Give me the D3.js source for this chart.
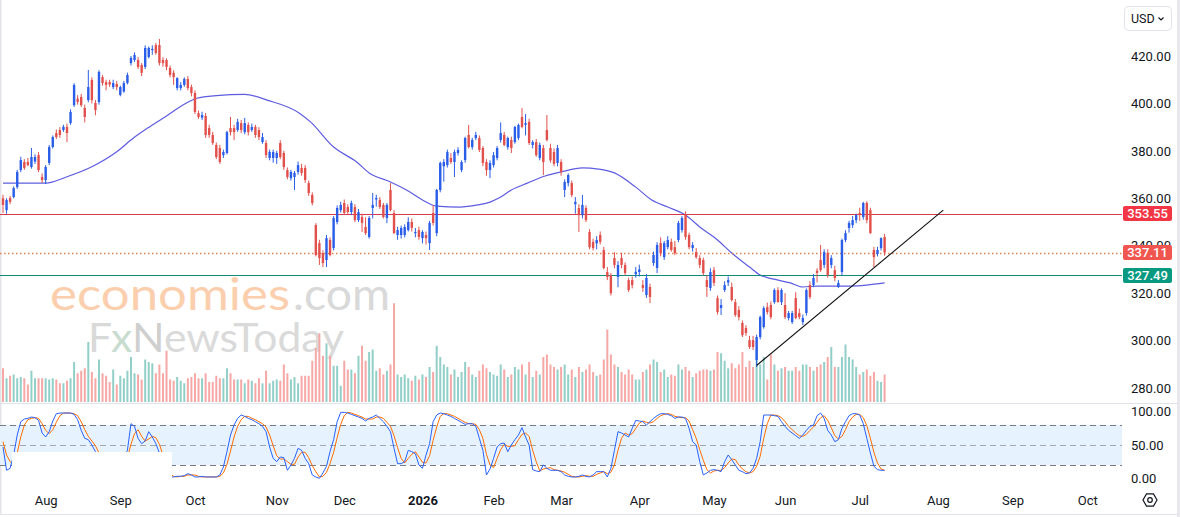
<!DOCTYPE html>
<html>
<head>
<meta charset="utf-8">
<script src="https://cdn.jsdelivr.net/npm/d3@7"></script>
<style>
  body { margin: 0; background: #fff; }
  svg { display: block; font-family: Roboto, "Noto Sans", sans-serif; }
</style>
</head>
<body>
<svg id="vis"></svg>
<script>
const WIDTH = 1180;
const HEIGHT = 517;

// daily candles [open, high, low, close]
const ohlc = [
  [360.0,361.5,353.8,357.2],[355.0,360.0,353.5,359.3],[360.1,361.0,357.5,358.5],[360.5,365.0,360.0,364.3],[364.7,372.0,364.0,371.1],
  [371.9,377.5,371.0,376.1],[375.3,376.5,372.0,372.8],[375.3,377.0,373.5,374.0],[373.2,381.2,372.5,377.4],[375.5,378.5,374.5,377.4],
  [378.2,379.5,371.0,371.9],[369.0,370.5,366.5,367.7],[367.7,374.0,366.0,373.2],[374.9,382.5,374.0,381.6],[381.6,386.5,381.0,385.8],
  [387.5,389.0,385.0,385.8],[388.8,390.0,385.5,386.7],[388.8,391.0,388.0,390.1],[390.1,391.5,383.7,387.5],[391.7,397.5,391.0,396.4],
  [399.3,408.5,398.5,407.8],[402.0,403.5,399.5,400.6],[402.7,404.0,398.5,399.3],[398.1,399.5,392.0,394.3],[401.4,414.1,400.5,406.9],
  [409.9,411.0,400.0,401.4],[400.2,401.5,395.0,397.2],[400.6,414.0,399.5,413.3],[411.1,412.0,407.5,408.6],[409.0,410.0,405.5,407.8],
  [409.0,410.0,407.0,408.0],[406.9,410.0,406.0,408.6],[408.2,409.5,405.5,406.9],[403.6,407.5,403.0,406.9],[405.0,409.5,404.5,408.6],
  [408.6,413.0,408.0,412.0],[417.0,420.0,416.0,419.2],[418.3,421.5,417.5,420.4],[418.3,419.5,414.5,415.4],[416.2,417.0,411.5,412.9],
  [415.4,424.5,414.5,423.4],[419.6,424.0,419.0,423.4],[422.5,424.5,420.5,423.0],[424.6,425.5,420.5,421.3],[424.6,427.2,416.0,417.0],
  [418.3,419.5,415.5,417.0],[418.3,419.0,414.0,415.4],[415.0,416.0,411.0,412.0],[412.9,414.0,407.8,411.1],[406.5,411.0,405.5,410.7],
  [406.5,409.0,405.5,407.8],[407.8,411.0,407.0,410.3],[410.3,411.5,405.5,406.5],[406.9,408.0,403.0,404.4],[404.4,405.5,395.5,396.4],
  [395.9,397.0,393.5,394.3],[394.0,396.5,393.0,395.1],[394.7,396.0,385.5,386.7],[389.6,391.0,385.5,386.7],[386.7,388.0,382.5,383.3],
  [382.5,383.5,376.5,377.4],[381.2,382.5,374.5,375.3],[378.2,380.5,377.0,379.5],[379.1,388.5,378.5,387.9],[389.6,394.3,386.5,387.9],
  [389.6,391.0,384.5,387.9],[388.8,393.5,388.0,392.2],[391.7,393.0,387.5,388.8],[387.9,393.9,387.0,391.7],[390.9,392.0,386.5,387.9],
  [388.8,391.5,388.0,390.1],[390.1,391.0,385.5,386.7],[388.8,390.0,384.5,385.8],[383.7,387.5,383.0,385.8],[383.3,384.5,377.0,378.2],
  [377.0,380.5,376.0,379.5],[377.0,380.5,375.0,379.5],[377.0,380.0,374.5,379.1],[383.3,384.5,376.5,377.4],[379.1,380.0,372.0,373.2],
  [371.9,373.0,368.0,369.0],[368.5,372.0,367.5,371.1],[369.0,371.5,363.5,370.7],[371.1,375.5,370.0,374.0],[372.8,374.5,369.5,370.7],
  [372.8,374.0,366.5,367.7],[366.4,367.5,361.0,362.2],[361.4,362.5,357.0,358.0],[348.7,349.5,335.5,336.1],[341.1,342.5,331.9,334.8],
  [336.9,338.0,331.0,332.7],[334.0,344.5,331.0,343.2],[342.4,343.5,335.5,336.1],[339.0,352.5,338.0,351.7],[350.0,357.0,349.0,355.9],
  [355.0,358.5,354.0,357.2],[358.0,359.5,353.0,353.8],[356.3,357.5,353.5,354.2],[354.2,359.0,353.0,358.0],[356.3,357.5,350.0,350.8],
  [350.8,355.5,350.0,354.2],[352.1,353.5,345.8,349.6],[347.9,352.0,344.5,345.3],[343.7,352.5,343.0,351.7],[355.9,362.2,351.5,357.2],
  [359.5,361.5,356.5,360.1],[359.3,360.5,355.5,356.3],[357.2,358.0,351.5,352.1],[351.7,358.0,349.5,357.2],[363.5,366.4,354.5,355.0],
  [353.8,355.0,345.0,345.3],[344.5,348.0,342.5,346.6],[344.5,348.5,343.0,347.5],[344.5,349.0,343.5,347.9],[346.6,352.0,346.0,350.0],
  [350.0,351.5,346.0,347.5],[345.3,347.5,343.5,345.8],[346.6,348.0,342.5,343.7],[343.2,346.5,341.0,345.8],[344.5,346.0,340.5,343.2],
  [341.1,350.5,338.2,349.6],[353.8,357.0,348.5,349.6],[345.3,364.0,344.0,363.5],[363.5,375.5,362.5,374.9],[373.5,376.5,367.0,375.3],
  [374.0,380.5,373.0,379.5],[377.0,379.0,374.5,375.3],[375.3,380.5,369.0,379.5],[379.1,381.5,378.0,380.4],[371.9,376.0,371.0,375.3],
  [376.1,386.0,375.0,385.4],[386.7,390.9,381.0,381.6],[381.6,385.5,380.5,384.6],[385.4,388.0,384.5,386.7],[385.4,386.5,379.5,380.4],
  [381.2,382.0,373.5,374.9],[375.3,376.5,369.5,371.9],[371.9,376.0,368.5,374.9],[374.0,379.5,373.0,378.2],[377.0,382.0,376.0,381.2],
  [384.6,392.0,383.5,387.5],[386.7,388.0,382.0,382.5],[381.6,386.0,380.5,385.4],[384.6,386.0,379.1,381.2],[383.7,390.5,383.0,390.1],
  [385.4,391.5,384.5,390.9],[394.3,398.1,389.5,390.1],[391.0,395.5,386.5,391.7],[392.2,393.5,382.5,383.3],[382.5,384.5,381.0,383.7],
  [383.7,385.0,377.5,378.2],[377.0,383.5,376.0,382.5],[381.2,382.5,369.8,375.3],[388.8,395.1,384.0,384.6],[381.2,383.0,375.0,376.0],
  [379.5,381.0,373.5,374.5],[374.9,382.5,373.5,381.2],[375.3,376.5,369.5,371.1],[363.5,368.0,360.5,366.9],[366.4,370.5,365.0,369.8],
  [366.4,367.5,360.5,361.4],[357.5,360.5,353.5,358.5],[355.9,357.5,345.8,352.9],[352.9,361.4,351.5,357.2],[355.9,357.0,350.0,350.8],
  [345.8,347.0,338.5,339.4],[341.6,343.0,338.0,339.0],[341.0,344.0,338.5,342.4],[344.5,346.0,340.5,341.6],[338.2,339.5,330.0,330.6],
  [328.9,331.0,325.5,326.8],[327.6,328.5,319.0,320.0],[334.8,337.3,330.5,331.9],[326.8,333.5,322.5,331.9],[334.8,337.0,330.5,331.9],
  [331.9,333.0,327.5,328.5],[325.5,326.5,320.5,321.3],[325.5,327.0,322.0,323.4],[328.0,331.0,326.5,329.0],[328.9,332.0,327.0,330.0],
  [323.4,325.5,320.5,322.2],[319.2,328.0,318.0,326.4],[322.6,324.0,315.8,318.4],[332.7,337.5,331.5,336.1],[330.6,341.5,328.5,340.3],
  [341.1,343.5,335.5,336.9],[335.2,342.0,334.0,341.1],[339.4,344.0,338.5,342.4],[341.6,343.0,337.5,338.2],[339.4,342.0,336.0,336.9],
  [342.4,350.5,341.5,349.6],[346.6,352.5,345.5,351.7],[352.9,354.5,342.5,343.7],[344.5,345.5,338.5,339.4],[339.0,341.5,337.5,340.3],
  [337.3,339.0,334.5,335.2],[334.8,336.0,330.5,331.9],[334.0,335.0,327.5,328.5],[325.5,327.5,318.4,322.6],[322.2,330.5,321.0,328.9],
  [329.7,331.0,323.0,324.3],[317.9,319.0,311.0,312.0],[313.7,317.5,310.8,315.0],[321.3,325.0,320.5,323.4],[324.5,327.0,323.0,325.5],
  [322.6,324.5,316.5,317.1],[316.2,317.5,310.0,310.8],[312.9,314.5,308.5,309.9],[307.4,308.5,301.5,302.3],[305.3,306.5,302.0,303.2],
  [300.2,302.0,296.5,297.3],[300.2,302.0,296.0,297.3],[291.8,302.5,288.8,301.5],[301.5,310.5,300.5,309.9],[305.7,314.5,305.0,313.7],
  [314.1,316.0,311.0,312.0],[315.0,316.5,309.0,309.9],[316.2,322.0,315.5,321.3],[321.3,322.5,316.0,316.2],[316.2,322.0,315.0,321.3],
  [315.0,320.0,309.0,309.9],[309.5,312.5,308.5,311.6],[307.8,312.5,307.0,311.6],[317.9,320.4,309.0,309.5],[311.6,313.5,309.0,309.9],
  [307.8,311.0,306.5,309.5],[311.6,322.0,310.5,321.3],[323.4,325.0,317.5,318.4],[323.4,328.0,322.5,326.4],[329.5,330.5,324.5,328.5],
  [334.0,340.3,329.0,329.7],[331.9,338.5,330.5,337.3],[336.9,338.5,326.5,327.6],[331.9,336.0,330.5,334.8],[329.7,331.5,325.0,326.4],
  [322.6,325.5,322.2,324.3],[328.9,343.0,327.5,342.4],[342.4,346.5,341.5,345.3],[347.5,350.5,345.5,349.6],[348.7,352.5,347.5,350.8],
  [350.8,353.5,349.5,352.9],[353.8,356.0,350.5,352.9],[352.1,358.5,351.0,358.0],[358.0,358.8,349.5,350.8],[355.0,356.0,345.0,345.3],
  [338.2,339.5,331.0,335.2],[336.5,339.5,335.5,338.2],[339.0,343.5,338.0,343.2],[343.7,345.0,335.8,337.11]
];

// volume in millions
const volume = [
  27,19,21,22,19,20,19,14,25,19, 19,19,19,18,19,18,15,15,17,19,
  32,23,25,27,48,24,19,34,23,21, 16,26,14,21,19,25,36,23,22,18,
  34,32,31,23,30,23,41,18,17,20, 17,15,19,20,23,19,19,23,16,16,
  21,19,19,27,23,18,18,18,15,18, 17,15,19,15,25,15,17,18,17,30,
  23,18,20,15,21,21,21,33,43,55, 37,47,37,29,29,13,33,26,26,23,
  37,45,33,40,42,25,27,22,25,30, 79,22,20,22,19,17,21,18,22,20,
  28,24,45,36,30,28,22,26,20,24, 32,28,22,20,25,30,27,24,22,21,
  30,26,20,22,28,26,30,22,32,20, 25,22,36,38,30,28,26,28,30,22,
  26,20,28,24,26,30,24,21,22,34, 58,38,30,28,24,22,26,22,18,18,
  24,26,30,34,32,24,26,20,22,21, 30,26,28,25,20,23,25,26,26,25,
  26,40,39,33,27,31,27,30,40,28, 33,28,42,30,36,18,38,30,25,27,
  28,25,25,28,25,30,30,28,25,28, 30,32,36,44,28,28,36,46,36,34,
  28,22,24,26,21,24,17,16,22
];

// stochastic %K and %D
const stochK = [
  47,12,15,35,65,85,89,90,92,91, 87,68,62,70,86,97,98,98,98,98,
  96,88,72,60,58,50,40,25,20,15, 12,18,10,20,30,42,82,78,60,52,
  56,70,62,52,38,15,5,2,2,3, 3,4,7,5,2,2,3,2,2,2,
  2,5,17,40,65,80,90,95,93,90, 88,85,82,78,70,47,30,25,32,31,
  12,20,30,45,42,30,22,5,2,0, 8,18,40,58,85,99,99,98,96,94,
  92,90,86,90,92,95,90,85,78,70, 45,22,22,25,42,40,37,20,15,35,
  52,85,95,98,97,95,93,90,87,84, 81,82,82,78,60,42,5,14,30,47,
  52,53,40,50,58,65,76,62,50,13, 11,10,20,15,12,12,12,10,5,3,
  2,2,3,5,3,2,5,10,10,10, 2,15,42,70,68,65,62,75,87,86,
  85,80,85,90,94,97,97,96,94,90, 92,92,90,75,55,50,25,5,8,12,
  13,12,10,25,35,28,20,12,10,7, 8,15,30,55,95,95,95,94,93,85,
  78,72,68,64,60,65,72,78,80,94, 98,90,72,65,55,58,75,85,94,97,
  97,95,82,60,38,18,13,12,12
];
const stochD = [
  55,35,25,21,38,62,80,88,90,91, 90,82,72,67,73,84,94,98,98,98,
  97,94,85,73,63,56,49,38,28,20, 16,15,13,16,20,31,51,67,73,63,
  56,59,63,61,51,35,19,7,3,2, 3,3,5,5,5,3,2,2,2,2,
  2,3,8,21,41,62,78,88,93,93, 90,88,85,82,77,65,49,34,29,29,
  25,21,21,32,39,39,31,19,10,2, 3,9,22,39,61,81,94,99,98,96,
  94,92,89,89,89,92,92,90,84,78, 64,46,30,23,30,36,40,32,24,23,
  34,57,77,93,97,97,95,93,90,87, 84,82,82,81,73,60,36,20,16,30,
  43,51,48,48,49,58,66,68,63,42, 25,11,14,15,16,13,12,11,9,6,
  3,2,2,3,4,3,3,6,8,10, 7,9,20,42,60,68,65,67,75,83,
  86,84,83,85,90,94,96,97,96,93, 92,91,91,86,73,60,43,27,13,8,
  11,12,12,16,23,29,28,20,14,10, 8,10,18,33,60,82,95,95,94,91,
  85,78,73,68,64,63,66,72,77,84, 91,94,87,76,64,59,63,73,85,92,
  96,96,91,79,60,39,23,14,12
];

// moving average, read at these bar positions
const maBar = [0,12,18,25,32,36.6,41.3,46,50.6,54.5,60,68,74.3,83.5,86.5,93,99.5,103,109,113.5,118,122,128.5,133.5,137,140,143,147.5,152.5,157,163,167.5,172,178,182.5,187,192,196,201,205,210,213,216.5,221.5,225,229,233.5,238.5,243,248];
const maVal = [366.4,366.4,369.1,373.3,379.6,385.3,390.2,394.7,399.3,402.2,403.3,403.8,401.4,395.8,392.2,381.6,375.3,370.7,366.9,363.5,359.3,356.7,356.3,357.2,358.4,360.5,363.5,366.4,369.4,371.1,372.8,372.3,370.7,364.7,359.3,356.3,352.9,347.9,342.4,336.9,331.0,327.6,326.0,324.3,322.6,323.0,323.0,323.0,323.4,324.3];

// horizontal levels and trend line
const levels = [
  { value: 353.55, line: "#d83a4b", box: "#f23645", dash: null },
  { value: 337.11, line: "#e3824f", box: "#f0564f", dash: "1.5 2.5" },
  { value: 327.49, line: "#128a79", box: "#089981", dash: null },
];
const trend = [{ bar: 212, price: 289.5 }, { bar: 264.5, price: 355 }];

const priceTicks = [280, 300, 320, 340, 360, 380, 400, 420];
const stochTicks = [0, 50, 100];
const monthBars = [12, 33, 54, 77, 96, 118, 138, 157, 179, 200, 220, 241, 263, 284, 305];
const monthLabels = ["Aug", "Sep", "Oct", "Nov", "Dec", "2026", "Feb", "Mar", "Apr", "May", "Jun", "Jul", "Aug", "Sep", "Oct"];

const UP = "#2a5ee8";
const DOWN = "#e2504c";
const PLOT_RIGHT = 1122;

const svg = d3.select("#vis").attr("width", WIDTH).attr("height", HEIGHT);

const x = d3.scaleLinear().domain([0, 248]).range([3, 884.6]);
const y = d3.scaleLinear().domain([280, 420]).range([388, 56]);
const yVol = d3.scaleLinear().domain([0, 100]).range([402, 277]);
const yStoch = d3.scaleLinear().domain([0, 100]).range([478.3, 411.7]);

// bordes
svg.append("rect").attr("x", 0).attr("y", 0).attr("width", 1.5).attr("height", 514).attr("fill", "#e4e4e8");
svg.append("rect").attr("x", 1177).attr("y", 0).attr("width", 3).attr("height", HEIGHT).attr("fill", "#e8e8ec");
svg.append("line").attr("x1", 0).attr("x2", 1177).attr("y1", 403.5).attr("y2", 403.5).attr("stroke", "#e0e3eb");
svg.append("line").attr("x1", 0).attr("x2", 1177).attr("y1", 514.5).attr("y2", 514.5).attr("stroke", "#e0e3eb");

// watermark
const wm = svg.append("g").attr("font-family", "Lato, 'Noto Sans', sans-serif");
wm.append("text").attr("x", 50).attr("y", 310).attr("font-size", 44)
  .attr("textLength", 240).attr("lengthAdjust", "spacingAndGlyphs")
  .attr("fill", "#fbcfae").text("economies");
wm.append("text").attr("x", 293).attr("y", 310).attr("font-size", 44)
  .attr("textLength", 97).attr("lengthAdjust", "spacingAndGlyphs")
  .attr("fill", "#d9d9d9").text(".com");
const fx = wm.append("text").attr("x", 88).attr("y", 352).attr("font-size", 41)
  .attr("textLength", 256).attr("lengthAdjust", "spacingAndGlyphs");
fx.append("tspan").attr("fill", "#d9d9d9").text("F");
fx.append("tspan").attr("fill", "#c8dccf").text("x");
fx.append("tspan").attr("fill", "#cfcfcf").text("N");
fx.append("tspan").attr("fill", "#dadada").text("ewsToday");

// volumen
svg.append("g")
  .selectAll("rect")
  .data(volume)
  .join("rect")
  .attr("x", (d, i) => x(i) - 1)
  .attr("y", (d) => yVol(d))
  .attr("width", 2)
  .attr("height", (d) => yVol(0) - yVol(d))
  .attr("fill", (d, i) => (ohlc[i][3] >= ohlc[i][0] ? "#92cfc8" : "#f5a8a6"));

// media movil
svg.append("path")
  .datum(maBar.map((b, i) => [b, maVal[i]]))
  .attr("fill", "none")
  .attr("stroke", "#5d5ce0")
  .attr("stroke-width", 1.2)
  .attr("d", d3.line().x((d) => x(d[0])).y((d) => y(d[1])).curve(d3.curveMonotoneX));

// niveles horizontales
levels.forEach((l) => {
  svg.append("line")
    .attr("x1", 0).attr("x2", PLOT_RIGHT)
    .attr("y1", Math.round(y(l.value)) + 0.5).attr("y2", Math.round(y(l.value)) + 0.5)
    .attr("stroke", l.line)
    .attr("stroke-width", l.dash ? 1.5 : 1)
    .attr("stroke-dasharray", l.dash);
});

// velas
const velas = svg.append("g");
velas.selectAll("line")
  .data(ohlc)
  .join("line")
  .attr("x1", (d, i) => x(i)).attr("x2", (d, i) => x(i))
  .attr("y1", (d) => y(d[1])).attr("y2", (d) => y(d[2]))
  .attr("stroke", (d) => (d[3] >= d[0] ? UP : DOWN))
  .attr("stroke-width", 1);
velas.selectAll("rect")
  .data(ohlc)
  .join("rect")
  .attr("x", (d, i) => x(i) - 1.2)
  .attr("y", (d) => y(Math.max(d[0], d[3])))
  .attr("width", 2.4)
  .attr("height", (d) => Math.max(1, Math.abs(y(d[0]) - y(d[3]))))
  .attr("fill", (d) => (d[3] >= d[0] ? UP : DOWN));

// linea de tendencia
svg.append("line")
  .attr("x1", x(trend[0].bar)).attr("y1", y(trend[0].price))
  .attr("x2", x(trend[1].bar)).attr("y2", y(trend[1].price))
  .attr("stroke", "#111").attr("stroke-width", 1.1);

// eje de precios
const ejeY = svg.append("g")
  .attr("transform", "translate(1127,0)")
  .call(d3.axisRight(y).tickValues(priceTicks).tickSize(0).tickPadding(4).tickFormat(d3.format(".2f")));
ejeY.select(".domain").remove();
ejeY.selectAll("text").attr("font-size", 13).attr("fill", "#131722").attr("font-family", "Roboto, sans-serif");

// etiquetas de niveles
levels.forEach((l) => {
  const cy = y(l.value);
  svg.append("rect")
    .attr("x", 1123).attr("y", cy - 7.5).attr("width", 49).attr("height", 15).attr("rx", 2)
    .attr("fill", l.box);
  svg.append("text")
    .attr("x", 1147.5).attr("y", cy).attr("dy", "0.36em")
    .attr("text-anchor", "middle").attr("font-size", 13).attr("font-weight", 500)
    .attr("fill", "#fff").text(d3.format(".2f")(l.value));
});

// estocastico
svg.append("rect")
  .attr("x", 0).attr("width", PLOT_RIGHT)
  .attr("y", yStoch(80)).attr("height", yStoch(20) - yStoch(80))
  .attr("fill", "#e6f2fd");
[80, 50, 20].forEach((v) => {
  svg.append("line")
    .attr("x1", 0).attr("x2", PLOT_RIGHT)
    .attr("y1", Math.round(yStoch(v)) + 0.5).attr("y2", Math.round(yStoch(v)) + 0.5)
    .attr("stroke", v === 50 ? "#a3a6af" : "#787b86")
    .attr("stroke-dasharray", "6 4");
});
const lineaStoch = d3.line().x((d, i) => x(i)).y((d) => yStoch(d));
svg.append("path").datum(stochD).attr("fill", "none").attr("stroke", "#ff6d00").attr("stroke-width", 1).attr("d", lineaStoch);
svg.append("path").datum(stochK).attr("fill", "none").attr("stroke", "#2962ff").attr("stroke-width", 1).attr("d", lineaStoch);

// caja blanca que tapa parte del panel
svg.append("rect").attr("x", 12).attr("y", 452).attr("width", 160).attr("height", 26).attr("fill", "#fff");

const ejeS = svg.append("g")
  .attr("transform", "translate(1127,0)")
  .call(d3.axisRight(yStoch).tickValues(stochTicks).tickSize(0).tickPadding(4).tickFormat(d3.format(".2f")));
ejeS.select(".domain").remove();
ejeS.selectAll("text").attr("font-size", 13).attr("fill", "#131722").attr("font-family", "Roboto, sans-serif");

// eje de tiempo
const ejeX = svg.append("g")
  .attr("transform", "translate(0,495)")
  .call(d3.axisBottom(x).tickValues(monthBars).tickSize(0).tickPadding(1).tickFormat((d, i) => monthLabels[i]));
ejeX.select(".domain").remove();
ejeX.selectAll("text")
  .attr("font-size", 13).attr("fill", "#131722").attr("font-family", "Roboto, sans-serif")
  .attr("font-weight", (d, i) => (monthLabels[i] === "2026" ? 700 : 400));

// boton USD
svg.append("rect").attr("x", 1124.5).attr("y", 6.5).attr("width", 47).attr("height", 24).attr("rx", 4)
  .attr("fill", "#fff").attr("stroke", "#e0e3eb");
svg.append("text").attr("x", 1131).attr("y", 23).attr("font-size", 12.5).attr("fill", "#131722").text("USD");
svg.append("path").attr("d", "M1158.5,17.5 l2.5,2.5 l2.5,-2.5").attr("fill", "none").attr("stroke", "#131722").attr("stroke-width", 1.2);

// icono de ajustes
const hex = d3.range(6).map((k) => [1150 + 7 * Math.cos((k * Math.PI) / 3), 500 + 7 * Math.sin((k * Math.PI) / 3)]);
svg.append("path").attr("d", "M" + hex.join("L") + "Z").attr("fill", "none").attr("stroke", "#131722").attr("stroke-width", 1.2);
svg.append("circle").attr("cx", 1150).attr("cy", 500).attr("r", 2.3).attr("fill", "none").attr("stroke", "#131722").attr("stroke-width", 1.2);
</script>
</body>
</html>
